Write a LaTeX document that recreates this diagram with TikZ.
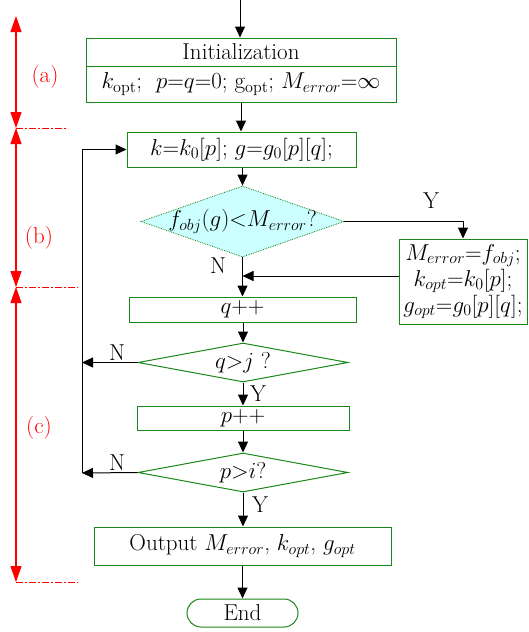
\RequirePackage{fix-cm}
\documentclass[tikz,border=0pt]{standalone}
\usetikzlibrary{arrows.meta,shapes.geometric,calc}
\definecolor{boxgreen}{RGB}{25,135,25}
\definecolor{lcyan}{RGB}{204,255,255}
\begin{document}
\begin{tikzpicture}[x=1pt,y=-1pt,
  every node/.style={font=\fontsize{23}{26}\selectfont},
  gbox/.style={draw=boxgreen,line width=1pt,rectangle,inner sep=0pt,anchor=center},
  gdia/.style={draw=boxgreen,line width=1pt,diamond,inner sep=0pt},
  arr/.style={line width=1pt,-{Triangle[length=11pt,width=10pt]}},
  ln/.style={line width=1pt},
  redarr/.style={red,line width=1.1pt,{Triangle[length=16pt,width=11pt]}-{Triangle[length=16pt,width=11pt]}},
  reddash/.style={red,line width=0.8pt,dash pattern=on 7pt off 2pt on 2pt off 2pt},
  lbl/.style={inner sep=0pt}
]
\useasboundingbox (0,0) rectangle (528,632);
% coordinates
\coordinate (start) at (240,0);
% Initialization
\node[gbox,minimum width=310pt,minimum height=28pt] (initA) at (241,52) {Initialization};
\node[gbox,minimum width=310pt,minimum height=36pt] (initB) at (241,84) {$k_{\mathrm{opt}}$;\ \ $p$=$q$=0; g$_{\mathrm{opt}}$; $M_{error}$=$\infty$};
% box2
\node[gbox,minimum width=229pt,minimum height=35pt] (b2) at (241.5,149.5) {$k$=$k_0[p]$;\ $g$=$g_0[p][q]$;};
% diamond 1
\node[draw=boxgreen,fill=lcyan,line width=0.8pt,densely dotted,diamond,inner sep=0pt,minimum width=203pt,minimum height=71pt] (d1) at (242.5,221.5) {};
\node[lbl] (d1t) at (242.5,221.5) {$f_{obj}(g){<}M_{error}$?};
% box3
\node[gbox,minimum width=128pt,minimum height=85pt,align=center] (b3) at (463,281.5) {$M_{error}$=$f_{obj}$;\\ $k_{opt}$=$k_0[p]$;\\ $g_{opt}$=$g_0[p][q]$;};
% q++
\node[gbox,minimum width=227pt,minimum height=25pt] (qpp) at (242.5,309.5) {$q$++};
% diamond 2
\node[gdia,minimum width=210pt,minimum height=39pt] (d2) at (243,362.5) {};
\node[lbl] (d2t) at (243,362.5) {$q{>}j$ ?};
% p++
\node[gbox,minimum width=212pt,minimum height=24pt] (ppp) at (243,418) {$p$++};
% diamond 3
\node[gdia,minimum width=210pt,minimum height=39pt] (d3) at (243,472.5) {};
\node[lbl] (d3t) at (243,472.5) {$p{>}i$?};
% output
\node[gbox,minimum width=297pt,minimum height=38pt] (out) at (242.5,546) {Output $M_{error}$, $k_{opt}$, $g_{opt}$};
% end
\node[draw=boxgreen,line width=1pt,rectangle,rounded corners=14pt,minimum width=111pt,minimum height=28pt,inner sep=0pt] (endn) at (242.5,613) {End};

% connectors
\draw[arr] (start) -- (initA.north -| start);
\draw[arr] (initB.south -| 241,0) -- (b2.north -| 241,0);
\draw[arr] (b2.south -| d1.north) -- (d1.north);
\draw[arr] (d1.east) -| (b3.north);
\coordinate (j1) at (242.5,276);
\draw[arr] (d1.south) -- (qpp.north);
\draw[arr] (b3.west |- j1) -- (j1);
\draw[arr] (qpp.south -| d2.north) -- (d2.north);
\draw[arr] (d2.south) -- (ppp.north -| d2.south);
\draw[arr] (ppp.south -| d3.north) -- (d3.north);
\draw[arr] (d3.south) -- (out.north -| d3.south);
\draw[arr] (out.south) -- (endn.north);
% loop
\coordinate (lp2) at (82,362.5);
\coordinate (lp3) at (82,473);
\coordinate (lptop) at (82,149.5);
\draw[arr] (d2.west) -- (lp2);
\draw[arr] (d3.west) -- (lp3);
\draw[ln] (lp3) -- (lptop);
\draw[arr] (lptop) -- (b2.west);

% labels
\node[lbl] (lY1) at (431,201) {Y};
\node[lbl] (lN1) at (218,266) {N};
\node[lbl] (lN2) at (117,353) {N};
\node[lbl] (lY2) at (258,393.5) {Y};
\node[lbl] (lN3) at (117,463) {N};
\node[lbl] (lY3) at (260,505) {Y};

% red markers
\coordinate (r0) at (16,16);
\coordinate (r1) at (16,128);
\coordinate (r2) at (16,287);
\coordinate (r3) at (16,582);
\coordinate (r1e) at (68,128);
\coordinate (r2e) at (78,287);
\coordinate (r3e) at (78,582);
\draw[redarr] (r0) -- (r1);
\draw[redarr] (r1) -- (r2);
\draw[redarr] (r2) -- (r3);
\draw[reddash] (r1) -- (r1e);
\draw[reddash] (r2) -- (r2e);
\draw[reddash] (r3) -- (r3e);
\node[lbl,text=red] (la) at (45,77) {(a)};
\node[lbl,text=red] (lb) at (39,238) {(b)};
\node[lbl,text=red] (lc) at (39,428) {(c)};
\end{tikzpicture}
\end{document}
